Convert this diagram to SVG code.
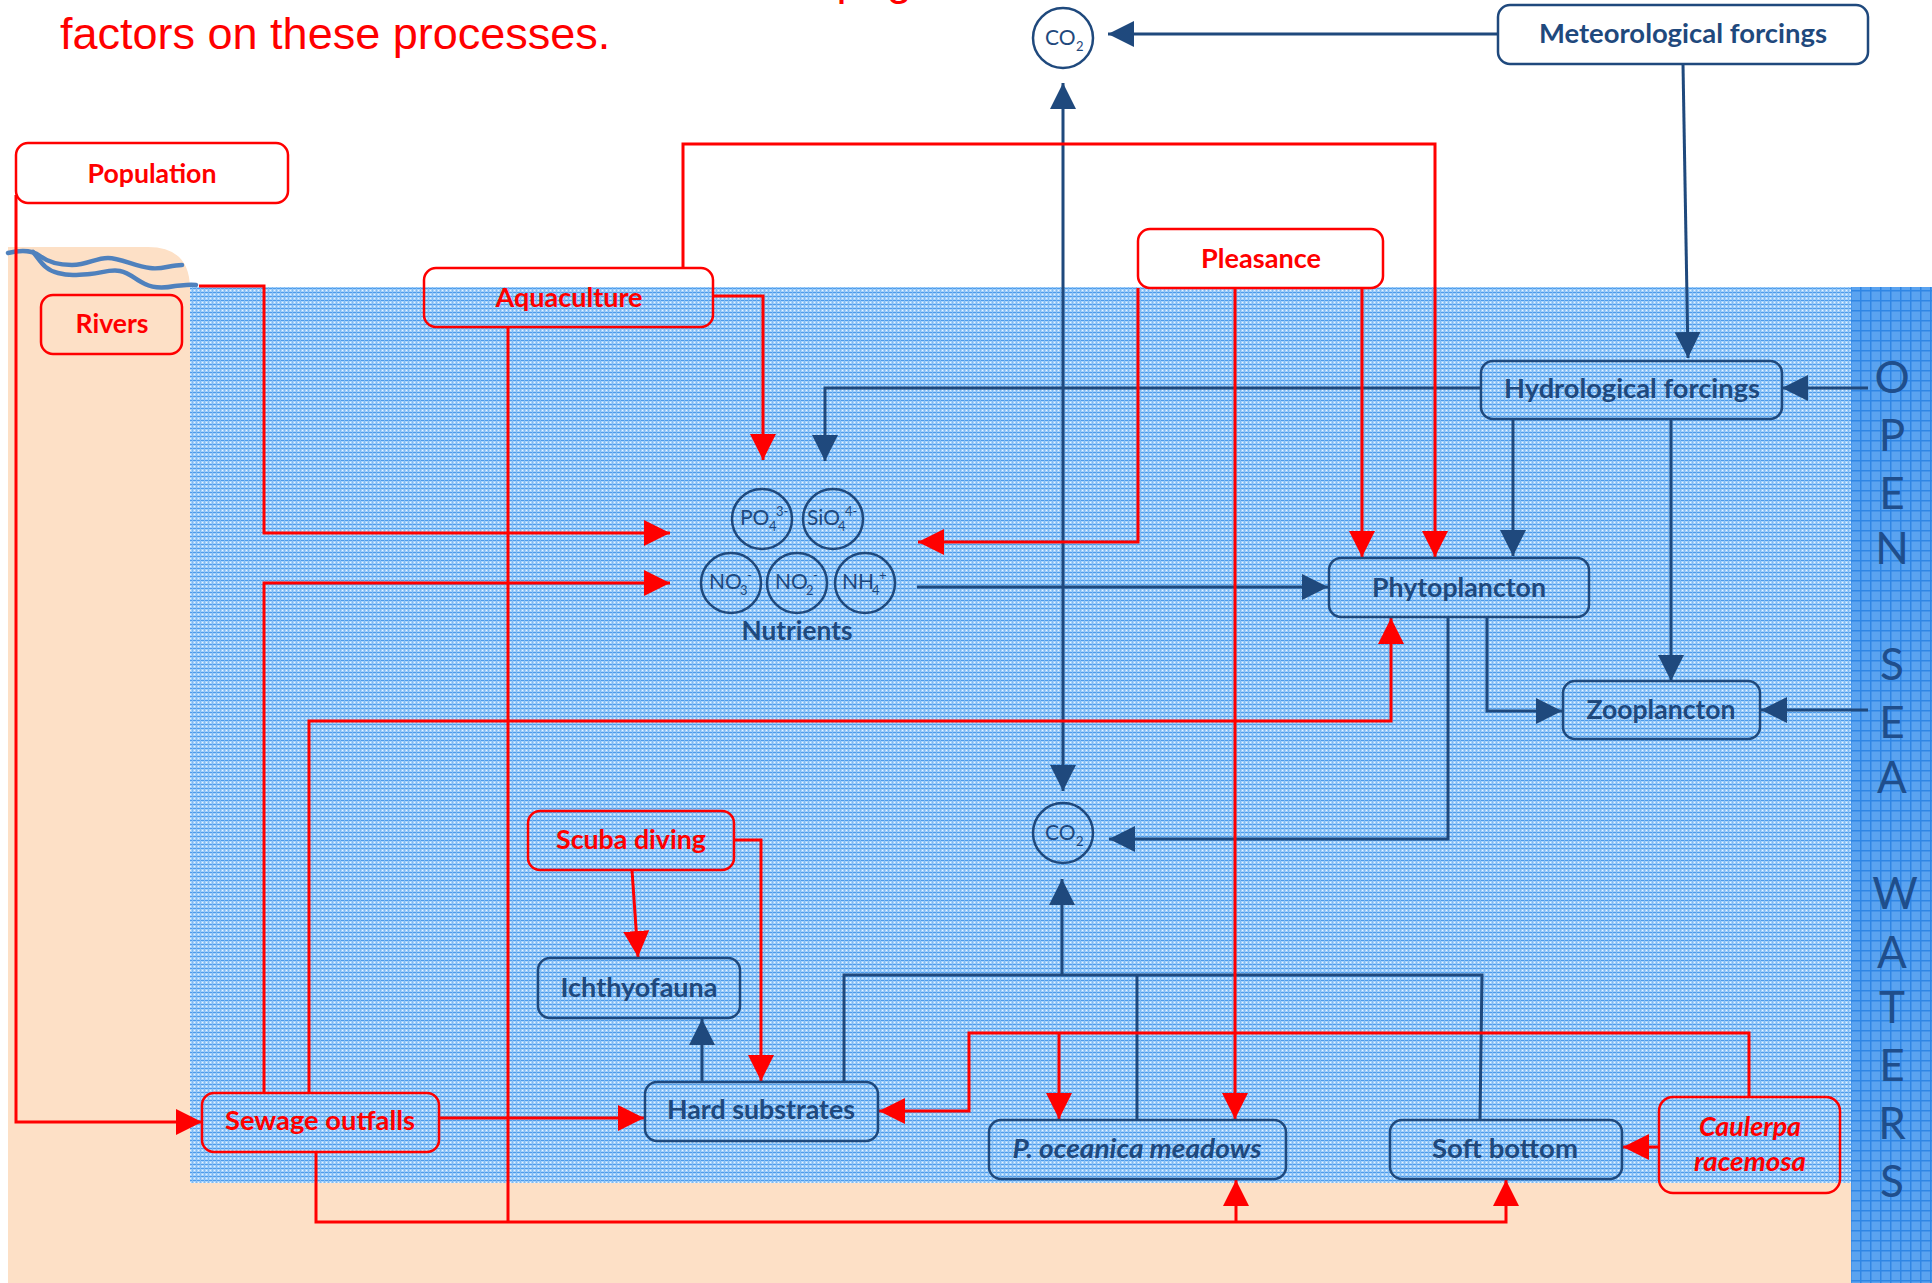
<svg xmlns="http://www.w3.org/2000/svg" width="1932" height="1283" viewBox="0 0 1932 1283">
<style>
.bx{fill:none;stroke:#1F497D;stroke-width:2.5}
.rx{fill:none;stroke:#FF0000;stroke-width:2.5}
.tb{font-family:Lato,"Liberation Sans",sans-serif;font-weight:700;font-size:26px;fill:#1F497D;text-anchor:middle}
.tr{font-family:Lato,"Liberation Sans",sans-serif;font-weight:700;font-size:26px;fill:#FF0000;text-anchor:middle}
.it{font-style:italic}
.chem{font-family:Lato,"Liberation Sans",sans-serif;font-weight:400;font-size:21px;fill:#1F497D}
.sm{font-size:13px}
.cb{fill:none;stroke:#1F497D;stroke-width:3}
.cr{fill:none;stroke:#FF0000;stroke-width:3}
.ab{marker-end:url(#mb)}
.ar{marker-end:url(#mr)}
.osw{font-family:Lato,"Open Sans",sans-serif;font-weight:400;font-size:44px;fill:#1F4E8C;text-anchor:middle}
.circ{fill:none;stroke:#1F497D;stroke-width:2.5}
.river{fill:none;stroke:#4F81BD;stroke-width:4.5;stroke-linecap:round;stroke-linejoin:round}
</style>
<defs>
<pattern id="sea" width="4" height="4" patternUnits="userSpaceOnUse">
<rect width="4" height="4" fill="#a6d2fb"/>
<rect width="4" height="1" fill="#4d9beb"/>
<rect width="1" height="4" fill="#7fbaf3"/>
<rect x="2" y="2" width="1" height="1" fill="#e8f4ff"/>
</pattern>
<pattern id="open" width="10" height="10" patternUnits="userSpaceOnUse">
<rect width="10" height="10" fill="#5aa3f0"/>
<rect width="10" height="1.5" fill="#2f86e4"/>
<rect width="1.5" height="10" fill="#2f86e4"/>
</pattern>
<marker id="mb" markerUnits="userSpaceOnUse" markerWidth="26" markerHeight="26" viewBox="0 0 26 26" refX="26" refY="13" orient="auto-start-reverse">
<path d="M0,0 L26,13 L0,26 Z" fill="#1F497D"/>
</marker>
<marker id="mr" markerUnits="userSpaceOnUse" markerWidth="26" markerHeight="26" viewBox="0 0 26 26" refX="26" refY="13" orient="auto">
<path d="M0,0 L26,13 L0,26 Z" fill="#FF0000"/>
</marker>
</defs>

<rect width="1932" height="1283" fill="#ffffff"/>
<g id="background">
<path d="M8,247 H148 Q190,247 190,289 V1183 H1851 V1283 H8 Z" fill="#FDE0C6"/>
<rect x="190" y="287" width="1661" height="896" fill="url(#sea)"/>
<rect x="1851" y="287" width="81" height="996" fill="url(#open)"/>
<path class="river" d="M8,253 C20,250 32,250 40,256 C48,262 58,265 72,265 C88,265 95,258 108,258 C120,258 135,266 150,268 C162,270 170,265 182,265"/>
<path class="river" d="M33,252 C40,260 44,270 58,273 C70,276 78,275 90,274 C102,273 110,269 120,271 C130,273 136,280 145,284 C155,289 165,288 175,286 C185,285 190,284 196,285"/>
</g>

<g id="title" font-family="'Liberation Sans',Arial,sans-serif" font-size="45" fill="#FF0000">
<text x="709" y="-5">anthropogenic</text>
<text x="60" y="49">factors on these processes.</text>
</g>

<g id="open-sea-waters" class="osw">
<text x="1892" y="393">O</text>
<text x="1892" y="451">P</text>
<text x="1892" y="509">E</text>
<text x="1892" y="564">N</text>
<text x="1892" y="680">S</text>
<text x="1892" y="738">E</text>
<text x="1892" y="793">A</text>
<text x="1895" y="909">W</text>
<text x="1892" y="968">A</text>
<text x="1892" y="1023">T</text>
<text x="1892" y="1081">E</text>
<text x="1892" y="1139">R</text>
<text x="1892" y="1197">S</text>
</g>

<g id="connectors">
<path class="cb ab" d="M1498,34 H1108"/>
<path class="cb ab" d="M1683,64 L1688,358"/>
<path class="cb ab" d="M1868,388 H1782"/>
<path class="cb ab" d="M1481,388 H825 V461"/>
<path class="cb ab" d="M1513,419 V556"/>
<path class="cb ab" d="M1671,419 V681"/>
<path class="cb ab" d="M917,587 H1328"/>
<path class="cb ab" d="M1487,617 V711 H1562"/>
<path class="cb ab" d="M1868,710 H1761"/>
<path class="cb ab" d="M1448,617 V839 H1109"/>
<path class="cb ab" d="M1063,791 V83" marker-start="url(#mb)"/>
<path class="cb" d="M844,1082 V975 H1482 L1480,1120"/>
<path class="cb" d="M1137,1120 V975"/>
<path class="cb ab" d="M1062,975 V879"/>
<path class="cb ab" d="M702,1082 V1019"/>

<path class="cr ar" d="M16,195 V1122 H202"/>
<path class="cr ar" d="M199,286 H264 V533 H670"/>
<path class="cr ar" d="M264,1093 V583 H670"/>
<path class="cr ar" d="M309,1093 V721 H1391 V618"/>
<path class="cr ar" d="M439,1118 H644"/>
<path class="cr ar" d="M316,1152 V1222 H1506 V1180"/>
<path class="cr ar" d="M1236,1222 V1180"/>
<path class="cr" d="M508,327 V1222"/>
<path class="cr ar" d="M713,296 H763 V460"/>
<path class="cr ar" d="M683,268 V144 H1435 V557"/>
<path class="cr ar" d="M1138,288 V542 H918"/>
<path class="cr ar" d="M1235,288 V1119"/>
<path class="cr ar" d="M1362,288 V557"/>
<path class="cr ar" d="M632,870 L638,957"/>
<path class="cr ar" d="M734,840 H761 V1081"/>
<path class="cr ar" d="M1749,1097 V1033 H969 V1111 H879"/>
<path class="cr ar" d="M1059,1033 V1119"/>
<path class="cr ar" d="M1659,1147 H1623"/>
</g>

<g id="population"><rect class="rx" x="16" y="143" width="272" height="60" rx="12"/><text class="tr" x="152" y="183" textLength="129" lengthAdjust="spacingAndGlyphs">Population</text></g>
<g id="rivers"><rect class="rx" x="41" y="295" width="141" height="59" rx="12"/><text class="tr" x="112" y="333" textLength="73" lengthAdjust="spacingAndGlyphs">Rivers</text></g>
<g id="aquaculture"><rect class="rx" x="424" y="268" width="289" height="59" rx="12"/><text class="tr" x="569" y="307" textLength="147" lengthAdjust="spacingAndGlyphs">Aquaculture</text></g>
<g id="pleasance"><rect class="rx" x="1138" y="229" width="245" height="59" rx="12"/><text class="tr" x="1261" y="268" textLength="120" lengthAdjust="spacingAndGlyphs">Pleasance</text></g>
<g id="meteorological-forcings"><rect class="bx" x="1498" y="5" width="370" height="59" rx="12"/><text class="tb" x="1683" y="43" textLength="288" lengthAdjust="spacingAndGlyphs">Meteorological forcings</text></g>
<g id="hydrological-forcings"><rect class="bx" x="1481" y="361" width="301" height="58" rx="12"/><text class="tb" x="1632" y="398" textLength="256" lengthAdjust="spacingAndGlyphs">Hydrological forcings</text></g>
<g id="phytoplancton"><rect class="bx" x="1329" y="558" width="260" height="59" rx="12"/><text class="tb" x="1459" y="597" textLength="174" lengthAdjust="spacingAndGlyphs">Phytoplancton</text></g>
<g id="zooplancton"><rect class="bx" x="1563" y="681" width="197" height="58" rx="12"/><text class="tb" x="1661" y="719" textLength="149" lengthAdjust="spacingAndGlyphs">Zooplancton</text></g>
<g id="scuba-diving"><rect class="rx" x="528" y="811" width="206" height="59" rx="12"/><text class="tr" x="631" y="849" textLength="150" lengthAdjust="spacingAndGlyphs">Scuba diving</text></g>
<g id="ichthyofauna"><rect class="bx" x="538" y="958" width="202" height="60" rx="12"/><text class="tb" x="639" y="997" textLength="157" lengthAdjust="spacingAndGlyphs">Ichthyofauna</text></g>
<g id="hard-substrates"><rect class="bx" x="645" y="1082" width="233" height="59" rx="12"/><text class="tb" x="761" y="1119" textLength="188" lengthAdjust="spacingAndGlyphs">Hard substrates</text></g>
<g id="p-oceanica-meadows"><rect class="bx" x="989" y="1120" width="297" height="59" rx="12"/><text class="tb it" x="1137" y="1158" textLength="249" lengthAdjust="spacingAndGlyphs">P. oceanica meadows</text></g>
<g id="soft-bottom"><rect class="bx" x="1390" y="1120" width="232" height="59" rx="12"/><text class="tb" x="1505" y="1158" textLength="146" lengthAdjust="spacingAndGlyphs">Soft bottom</text></g>
<g id="caulerpa-racemosa"><rect class="rx" x="1659" y="1097" width="181" height="96" rx="14"/><text class="tr it" x="1750" y="1136" textLength="102" lengthAdjust="spacingAndGlyphs">Caulerpa</text><text class="tr it" x="1750" y="1171" textLength="112" lengthAdjust="spacingAndGlyphs">racemosa</text></g>
<g id="sewage-outfalls"><rect class="rx" x="202" y="1093" width="237" height="59" rx="12"/><text class="tr" x="320" y="1130" textLength="190" lengthAdjust="spacingAndGlyphs">Sewage outfalls</text></g>

<g id="nutrients">
<circle class="circ" cx="762" cy="519" r="30"/>
<circle class="circ" cx="833" cy="519" r="30"/>
<circle class="circ" cx="731" cy="583" r="30"/>
<circle class="circ" cx="797" cy="583" r="30"/>
<circle class="circ" cx="865" cy="583" r="30"/>
<text class="chem" x="740" y="525">PO<tspan class="sm" x="769" y="531">4</tspan><tspan class="sm" x="776" y="516">3-</tspan></text>
<text class="chem" x="807" y="525">SiO<tspan class="sm" x="838" y="531">4</tspan><tspan class="sm" x="845" y="516">4-</tspan></text>
<text class="chem" x="709" y="589">NO<tspan class="sm" x="740" y="595">3</tspan><tspan class="sm" x="747" y="580">-</tspan></text>
<text class="chem" x="775" y="589">NO<tspan class="sm" x="806" y="595">2</tspan><tspan class="sm" x="813" y="580">-</tspan></text>
<text class="chem" x="842" y="589">NH<tspan class="sm" x="872" y="595">4</tspan><tspan class="sm" x="879" y="580">+</tspan></text>
<text class="tb" x="797" y="640" font-size="23" textLength="111" lengthAdjust="spacingAndGlyphs">Nutrients</text>
</g>

<g id="co2-atmosphere">
<circle class="circ" cx="1063" cy="38" r="30"/>
<text class="chem" x="1045" y="45" font-size="22">CO<tspan class="sm" x="1076" y="51" font-size="14">2</tspan></text>
</g>
<g id="co2-water">
<circle class="circ" cx="1063" cy="833" r="30"/>
<text class="chem" x="1045" y="840" font-size="22">CO<tspan class="sm" x="1076" y="846" font-size="14">2</tspan></text>
</g>
</svg>
